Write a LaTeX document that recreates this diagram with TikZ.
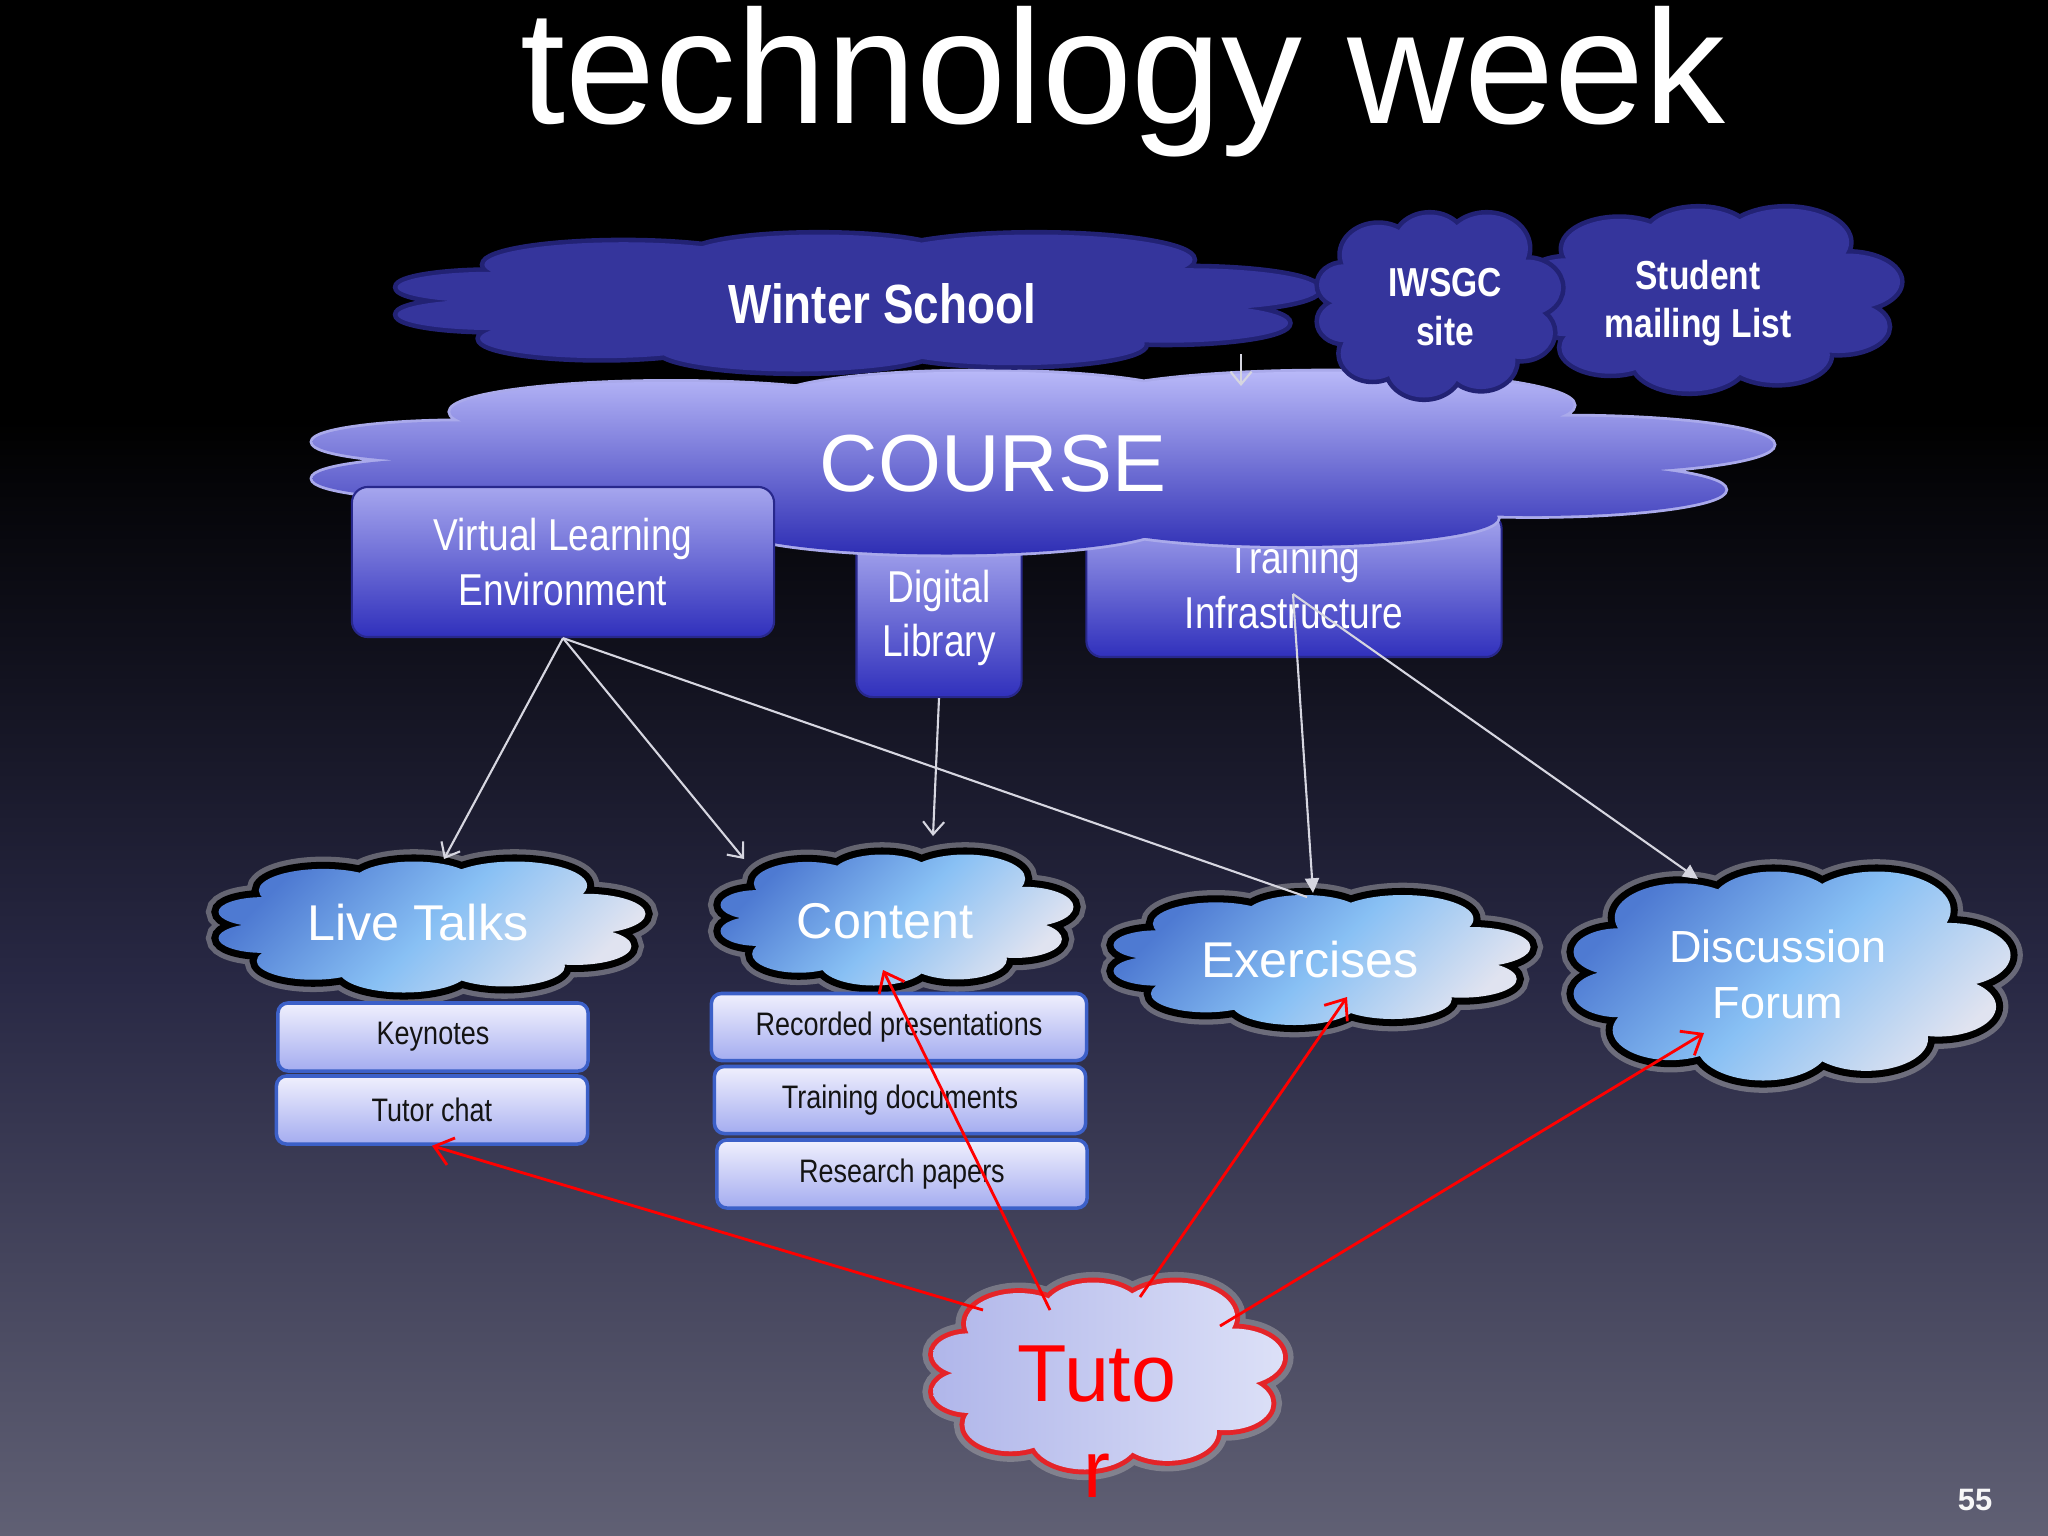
\documentclass[tikz,border=0pt]{standalone}
\usepackage{fontspec}
\setmainfont{Liberation Sans}
\newfontfamily\hvn[FakeStretch=0.83]{Liberation Sans}
\usetikzlibrary{arrows.meta}
\definecolor{bgBot}{RGB}{96,96,116}
\definecolor{bgMid}{RGB}{40,40,68}
\definecolor{wsFill}{RGB}{53,53,156}
\definecolor{wsLine}{RGB}{34,34,116}
\definecolor{courseTop}{RGB}{184,184,248}
\definecolor{courseBot}{RGB}{46,46,180}
\definecolor{courseEdge}{RGB}{170,170,235}
\definecolor{boxTop}{RGB}{166,166,238}
\definecolor{boxBot}{RGB}{48,48,188}
\definecolor{boxLine}{RGB}{40,40,140}
\definecolor{cloudA}{RGB}{78,122,210}
\definecolor{cloudB}{RGB}{136,192,244}
\definecolor{cloudC}{RGB}{224,227,240}
\definecolor{smTop}{RGB}{240,240,253}
\definecolor{smBot}{RGB}{164,172,240}
\definecolor{smLine}{RGB}{60,96,200}
\definecolor{arrGray}{RGB}{214,214,224}
\definecolor{tutoL}{RGB}{176,182,234}
\definecolor{tutoR}{RGB}{220,224,247}
\definecolor{tutoRed}{RGB}{228,36,40}
% lobes of a cloud in a 212 x 195 box around (0,0): x/y/x radius/y radius
\def\lobes{1/0.5/81/62, -54/-54.5/32/32, -9/-67.5/30/30, 41/-61.5/36/36, 76/-19.5/30/30, 71/28.5/28/28, 36/58.5/30/30, -14/65.5/32/32, -59/50.5/28/28, -84/16.5/22/22, -84/-22.5/22/22}
\tikzset{
  pics/puffcloud/.style n args={3}{code={
    \path[#1] foreach \cx/\cy/\rx/\ry in \lobes {(\cx,\cy) ellipse [x radius=\rx, y radius=\ry]};
    \path[#2] foreach \cx/\cy/\rx/\ry in \lobes {(\cx,\cy) ellipse [x radius=\rx, y radius=\ry]};
    \path[#3] foreach \cx/\cy/\rx/\ry in \lobes {(\cx,\cy) ellipse [x radius=\rx, y radius=\ry]};
  }},
  cloudtxt/.style={inner sep=0pt, text=white, align=center},
  bluetxt/.style={cloudtxt, font=\fontsize{14.3}{17}\selectfont},
  darktxt/.style={cloudtxt, font=\hvn\bfseries\fontsize{11.5}{13.7}\selectfont},
  bigbox/.style={draw=boxLine, line width=0.6pt, rounded corners=0.16cm,
    top color=boxTop, bottom color=boxBot, text=white,
    font=\hvn\fontsize{12.7}{15.6}\selectfont, align=center},
  smallbox/.style={draw=smLine, line width=1pt, rounded corners=0.1cm,
    top color=smTop, bottom color=smBot, text=black!92,
    font=\hvn\fontsize{9.25}{11}\selectfont},
  gline/.style={draw=arrGray, line width=0.6pt},
  garrow/.style={gline, -{Straight Barb[length=3.6pt,width=6pt]}},
  gtri/.style={gline, -{Triangle[length=4.2pt,width=4pt]}},
  rarrow/.style={draw=red, line width=0.8pt, -{Straight Barb[length=5pt,width=8pt]}}
}
\newcommand{\bluepuff}[4]{% center x, y, width, height
  \pic[xscale=#3/212, yscale=#4/195] at (#1,#2)
    {puffcloud={draw=gray!55, draw opacity=0.45, line width=7pt}{draw=black, line width=4pt}{top color=cloudA, bottom color=cloudC, middle color=cloudB, shading angle=45}};}
\newcommand{\darkpuff}[4]{%
  \pic[xscale=#3/212, yscale=#4/195] at (#1,#2)
    {puffcloud={draw=none}{draw=wsLine, line width=2.6pt}{fill=wsFill}};}
\begin{document}
\begin{tikzpicture}[x=0.01cm,y=-0.01cm]
\useasboundingbox (0,0) rectangle (2048,1536);
% background
\fill[black] (0,0) rectangle (2048,420);
\shade[top color=black, bottom color=bgBot, middle color=bgMid] (0,420) rectangle (2048,1536);

% title
\node[anchor=base, text=white, font=\fontsize{46}{55}\selectfont, inner sep=0pt] (title) at (1123,123) {technology week};

% boxes under the course cloud
\node[bigbox, minimum width=1.65cm, minimum height=1.58cm] (dl) at (939,618) {Digital\\Library};
\node[bigbox, minimum width=4.15cm, minimum height=1.44cm] (training) at (1294,585) {Training\\Infrastructure};

% course cloud
\pic[xscale=1461/212, yscale=183/195] at (1043,463)
  {puffcloud={draw=none}{draw=courseEdge, line width=1.6pt}{top color=courseTop, bottom color=courseBot}};
\node[cloudtxt, font=\fontsize{23}{27}\selectfont] (course) at (993,464) {COURSE};

% top clouds
\darkpuff{858}{303}{921}{137}
\node[cloudtxt, font=\hvn\bfseries\fontsize{15.7}{19}\selectfont] (winter) at (882,304) {Winter School};
\darkpuff{1714}{300}{372}{183}
\node[darktxt] (student) at (1698,303) {Student\\mailing List};
\darkpuff{1440}{306}{242}{183}
\node[darktxt] (iwsgc) at (1445,307) {IWSGC\\site};

% VLE box
\node[bigbox, minimum width=4.22cm, minimum height=1.50cm] (vle) at (563,562) {Virtual Learning\\Environment};

% blue clouds
\bluepuff{432}{927}{427}{131}
\node[bluetxt] (talks) at (418,923) {Live Talks};
\bluepuff{897}{920}{353}{131}
\node[bluetxt] (content) at (885,921) {Content};
\bluepuff{1322}{960}{417}{130}
\node[bluetxt] (exercises) at (1310,960) {Exercises};
\bluepuff{1792}{976}{437}{209}
\node[bluetxt, font=\fontsize{12.8}{15.9}\selectfont] (forum) at (1778,974) {Discussion\\Forum};

% small boxes
\node[smallbox, minimum width=3.10cm, minimum height=0.68cm] (keynotes) at (433,1037) {Keynotes};
\node[smallbox, minimum width=3.11cm, minimum height=0.68cm] (tutorchat) at (432,1110) {Tutor chat};
\node[smallbox, minimum width=3.75cm, minimum height=0.67cm] (recorded) at (899,1027) {Recorded presentations};
\node[smallbox, minimum width=3.71cm, minimum height=0.67cm] (traindocs) at (900,1100) {Training documents};
\node[smallbox, minimum width=3.70cm, minimum height=0.68cm] (papers) at (902,1174) {Research papers};

% tutor cloud
\pic[xscale=350/212, yscale=187/195] at (1108,1376)
  {puffcloud={draw=gray!50, draw opacity=0.4, line width=6pt}{draw=tutoRed, line width=2.8pt}{left color=tutoL, right color=tutoR}};
\node[cloudtxt, text=red, font=\fontsize{23}{27}\selectfont] (tuto) at (1097,1374) {Tuto};
\node[anchor=base, inner sep=0pt, text=red, font=\fontsize{23}{27}\selectfont] (tutoR) at (1097,1497) {r};

% page number
\node[inner sep=0pt, text=white!94!gray, font=\bfseries\fontsize{8.8}{10}\selectfont] (pnum) at (1975,1500) {55};

% connector end points
\coordinate (wsOut) at (1241,354);
\coordinate (courseIn) at (1241,386);
\coordinate (talksIn) at (444,859);
\coordinate (contentInA) at (744,859);
\coordinate (exIn) at (1307,897);
\coordinate (contentInB) at (933,836);
\coordinate (trOut) at (1293,594);
\coordinate (exInB) at (1313,893);
\coordinate (forumIn) at (1698,879);
\coordinate (tA) at (983,1310);
\coordinate (tB) at (1050,1310);
\coordinate (tC) at (1140,1297);
\coordinate (tD) at (1220,1326);
\coordinate (contentInC) at (883,970);
\coordinate (exInC) at (1347,997);
\coordinate (forumInB) at (1704,1033);

% gray connectors
\draw[garrow] (wsOut) -- (courseIn);
\draw[garrow] (vle.south) -- (talksIn);
\draw[garrow] (vle.south) -- (contentInA);
\draw[gline] (vle.south) -- (exIn);
\draw[garrow] (dl.south) -- (contentInB);
\draw[gtri] (trOut) -- (exInB);
\draw[gtri] (trOut) -- (forumIn);

% red connectors
\draw[rarrow] (tA) -- (tutorchat.south);
\draw[rarrow] (tB) -- (contentInC);
\draw[rarrow] (tC) -- (exInC);
\draw[rarrow] (tD) -- (forumInB);
\end{tikzpicture}
\end{document}
